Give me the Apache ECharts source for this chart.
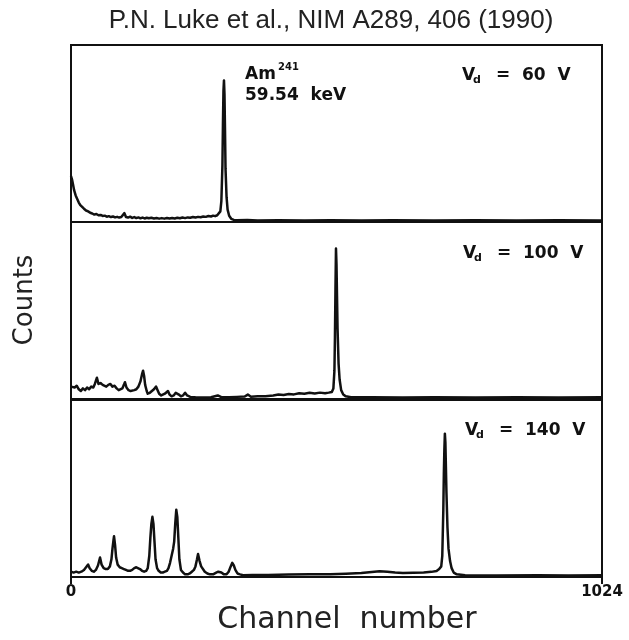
<!DOCTYPE html>
<html>
<head>
<meta charset="utf-8">
<script src="https://cdn.jsdelivr.net/npm/echarts@6/dist/echarts.min.js"></script>
<style>
  html, body { margin: 0; padding: 0; background: #fff; }
  #chart { width: 629px; height: 640px; }
</style>
</head>
<body>
<div id="chart"></div>
<script>
// Pulse-height spectra of Am-241 (59.54 keV) at three drift voltages.
// Each array holds [channel, counts] pairs, counts on a 0-100 relative scale.

const xTicks = [0, 1024];

const spectrum60 = [
  [0, 26], [2, 24], [4, 21], [6, 18], [9, 15], [12, 13], [15, 11], [18, 9.5], [21, 8.5],
  [25, 7.5], [29, 6.5], [33, 6], [37, 5.2], [41, 4.8], [45, 4.2], [49, 4.5], [53, 3.8],
  [57, 4], [61, 3.4], [65, 3.6], [69, 3], [73, 3.3], [77, 2.8], [81, 3.1], [85, 2.6],
  [89, 2.9], [93, 2.5], [97, 2.8], [100, 3.5], [103, 5], [106, 2.8], [110, 2.5], [114, 3],
  [118, 2.3], [122, 2.8], [126, 2.2], [130, 2.6], [134, 2.1], [138, 2.5], [142, 2],
  [146, 2.4], [150, 2.1], [155, 2.4], [160, 2], [165, 2.3], [170, 1.9], [175, 2.2],
  [180, 1.9], [185, 2.3], [190, 2], [195, 2.3], [200, 2], [205, 2.4], [210, 2.1],
  [215, 2.5], [220, 2.2], [225, 2.6], [230, 2.4], [235, 2.8], [240, 2.5], [245, 2.9],
  [250, 2.7], [255, 3.1], [260, 2.9], [265, 3.4], [270, 3.1], [274, 3.6], [278, 3.3],
  [282, 3.8], [285, 4.2], [288, 6], [290, 12], [292, 32], [293, 55], [294, 74],
  [295, 80], [296, 72], [297, 52], [298, 30], [300, 14], [302, 7], [305, 3.5],
  [309, 1.8], [314, 1.2], [320, 1], [340, 1.1], [360, 0.9], [400, 1], [450, 0.9],
  [500, 1], [560, 0.9], [620, 1], [700, 0.9], [780, 1], [860, 0.9], [940, 1], [1024, 0.9]
];

const spectrum100 = [
  [0, 7], [3, 8], [7, 6.5], [11, 7.5], [15, 5.5], [19, 4.5], [23, 6], [27, 5],
  [31, 6.5], [35, 5.5], [39, 7], [43, 6.5], [46, 8.5], [50, 12], [53, 8.5], [57, 9],
  [61, 8], [64, 8.5], [68, 7], [72, 8], [76, 8.5], [80, 7], [84, 7.5], [88, 6],
  [92, 5], [95, 4.5], [99, 6], [102, 8], [104, 9.5], [107, 6.5], [111, 5], [115, 4.5],
  [118, 4], [122, 5], [126, 5.5], [130, 7], [134, 10], [137, 14], [139, 16], [141, 13],
  [143, 8], [146, 4.5], [148, 3], [152, 3.5], [156, 4.5], [160, 5.5], [164, 7],
  [167, 5], [170, 3], [174, 2], [177, 2], [181, 3], [184, 3.5], [187, 4.5], [190, 2.5],
  [194, 1.5], [198, 2], [202, 3.5], [205, 4.5], [208, 2.5], [212, 1.5], [216, 2],
  [220, 3.5], [224, 2], [230, 1.2], [240, 1], [255, 0.9], [270, 1], [283, 2],
  [290, 1], [305, 1], [320, 1.2], [335, 1.4], [341, 2.5], [347, 1.3], [360, 1.5],
  [375, 1.6], [390, 2], [400, 2.5], [410, 2.3], [420, 2.8], [430, 2.6], [440, 3.2],
  [450, 3], [460, 3.5], [470, 3.1], [480, 3.6], [490, 3.2], [497, 3.6], [503, 4],
  [506, 6], [508, 16], [509, 35], [510, 62], [511, 85], [512, 76], [513, 58],
  [514, 40], [516, 20], [518, 11], [521, 5], [525, 2.5], [530, 1.5], [540, 1],
  [580, 1], [640, 0.9], [700, 1], [780, 0.9], [860, 1], [940, 0.9], [1024, 1]
];

const spectrum140 = [
  [0, 3], [5, 2.5], [10, 3], [15, 2.5], [20, 3], [25, 4], [29, 5.5], [33, 7],
  [36, 5], [40, 3.5], [44, 3], [48, 4], [52, 6.5], [56, 11], [59, 7], [63, 5],
  [67, 4.5], [71, 4.5], [75, 6], [78, 10], [80, 16], [82, 21], [83, 23], [85, 18],
  [87, 11], [90, 7], [94, 5.5], [98, 5], [102, 4.5], [106, 4], [110, 3.5], [114, 3.5],
  [118, 4], [122, 5], [126, 5.5], [129, 6], [133, 4.5], [137, 3.5], [141, 3],
  [145, 3.5], [148, 5], [151, 12], [153, 22], [155, 30], [157, 34], [159, 30],
  [161, 20], [163, 10], [166, 5], [169, 3.5], [173, 2.5], [177, 2.5], [181, 3],
  [185, 3.5], [188, 5], [191, 8], [194, 12], [197, 16], [199, 20], [201, 30],
  [203, 38], [205, 34], [207, 22], [209, 10], [212, 4], [216, 2.5], [220, 1.5],
  [225, 1.5], [229, 2], [233, 3], [237, 4], [240, 6], [243, 10], [245, 13],
  [248, 9], [251, 6], [254, 5], [258, 3], [263, 2], [268, 1.5], [274, 1.5],
  [280, 2.5], [284, 3], [287, 4], [290, 2.5], [295, 1.5], [300, 1.5], [304, 3],
  [308, 6], [311, 8], [314, 6.5], [317, 4], [321, 2], [326, 1.5], [332, 1],
  [350, 1.1], [380, 1.2], [420, 1.4], [460, 1.5], [500, 1.5], [530, 1.8], [560, 2.2],
  [580, 2.8], [595, 3.2], [610, 3], [625, 2.5], [640, 2.2], [660, 2.4], [680, 2.6],
  [695, 2.9], [705, 3.4], [710, 4.5], [714, 6], [716, 12], [718, 38], [719, 58],
  [720, 72], [721, 81], [722, 76], [723, 62], [724, 48], [726, 28], [728, 16],
  [731, 9], [734, 5], [738, 2.5], [744, 1.5], [760, 1], [820, 0.9], [900, 1],
  [960, 0.9], [1024, 1]
];

const panels = [
  { data: spectrum60,  volts: '60 V' },
  { data: spectrum100, volts: '100 V' },
  { data: spectrum140, volts: '140 V' }
];

const ink = '#111';
const gridTops = [45, 222, 400];
const gridHeight = 177;
const plotLeft = 71;
const plotRight = 27;

const grids = [], xAxes = [], yAxes = [], series = [];
panels.forEach((p, i) => {
  const last = i === panels.length - 1;
  grids.push({
    left: plotLeft, right: plotRight, top: gridTops[i], height: gridHeight,
    show: true, borderColor: ink, borderWidth: 2, backgroundColor: 'transparent'
  });
  xAxes.push({
    gridIndex: i, type: 'value', min: xTicks[0], max: xTicks[1], interval: xTicks[1] - xTicks[0],
    axisLine: { show: last, lineStyle: { color: ink, width: 2 } },
    axisTick: { show: last, inside: false, length: 7, lineStyle: { color: ink, width: 2 } },
    axisLabel: {
      show: last, color: ink, fontSize: 15, fontWeight: 'bold',
      fontFamily: 'DejaVu Sans', margin: 8,
      formatter: v => String(v)
    },
    splitLine: { show: false }
  });
  yAxes.push({
    gridIndex: i, type: 'value', min: 0, max: 100,
    axisLine: { show: false }, axisTick: { show: false },
    axisLabel: { show: false }, splitLine: { show: false }
  });
  series.push({
    type: 'line', xAxisIndex: i, yAxisIndex: i, data: p.data,
    showSymbol: false, symbol: 'none', smooth: false, clip: true,
    lineStyle: { color: ink, width: 2.5, join: 'round' },
    animation: false
  });
});

const labelFont = 'bold 17px "DejaVu Sans"';
const voltLabelPos = [
  { x: 462, y: 77 },
  { x: 463, y: 255 },
  { x: 465, y: 432 }
];

const graphics = [];
panels.forEach((p, i) => {
  const pos = voltLabelPos[i];
  graphics.push(
    { type: 'text', left: pos.x, top: pos.y - 10,
      style: { text: 'V', font: labelFont, fill: ink } },
    { type: 'text', left: pos.x + 11, top: pos.y - 2,
      style: { text: 'd', font: 'bold 11px "DejaVu Sans"', fill: ink } },
    { type: 'text', left: pos.x + 34, top: pos.y - 10,
      style: { text: '=', font: labelFont, fill: ink } },
    { type: 'text', left: pos.x + 60, top: pos.y - 10,
      style: { text: p.volts.replace(' ', '  '), font: labelFont, fill: ink } }
  );
});

graphics.push(
  { type: 'text', left: 245, top: 66,
    style: { text: 'Am', font: labelFont, fill: ink } },
  { type: 'text', left: 278, top: 62,
    style: { text: '241', font: 'bold 10px "DejaVu Sans"', fill: ink } },
  { type: 'text', left: 245, top: 87,
    style: { text: '59.54  keV', font: labelFont, fill: ink } },
  { type: 'text', x: 331, y: 21,
    style: { text: 'P.N. Luke et al., NIM A289, 406 (1990)', font: '26px "Liberation Sans"',
             fill: '#222', textAlign: 'center', textVerticalAlign: 'middle' } },
  { type: 'text', x: 347, y: 620,
    style: { text: 'Channel  number', font: '30px "DejaVu Sans"',
             fill: '#222', textAlign: 'center', textVerticalAlign: 'middle' } },
  { type: 'text', x: 25, y: 300, rotation: Math.PI / 2,
    style: { text: 'Counts', font: '26px "DejaVu Sans"',
             fill: '#222', textAlign: 'center', textVerticalAlign: 'middle' } }
);

const chart = echarts.init(document.getElementById('chart'), null, { renderer: 'canvas' });
chart.setOption({
  animation: false,
  backgroundColor: '#fff',
  grid: grids,
  xAxis: xAxes,
  yAxis: yAxes,
  series: series,
  graphic: graphics
});
</script>
</body>
</html>
